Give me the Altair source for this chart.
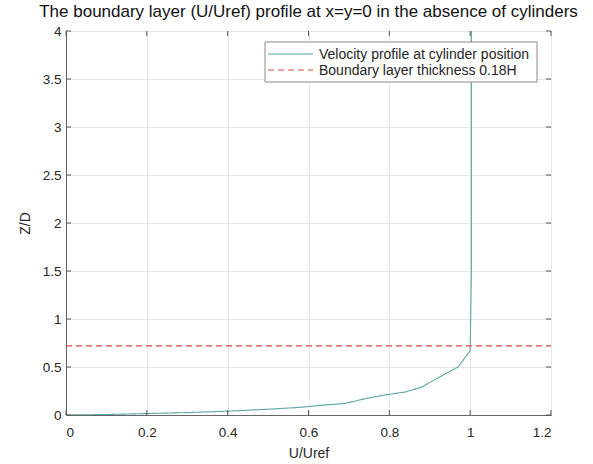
import altair as alt
import pandas as pd

# Mean streamwise velocity profile (U/Uref) against height (Z/D)
u_profile = [0.0, 0.10, 0.20, 0.30, 0.40, 0.50, 0.58, 0.63, 0.69, 0.74, 0.79,
             0.84, 0.88, 0.93, 0.97, 1.00, 1.003, 1.003]
z_profile = [0.0, 0.005, 0.015, 0.025, 0.04, 0.06, 0.08, 0.10, 0.12, 0.17, 0.21,
             0.24, 0.29, 0.41, 0.50, 0.67, 1.5, 4.0]

# Boundary layer thickness (0.18H, H = 4D)
bl_u = [0.0, 1.2]
bl_z = [0.72, 0.72]

series_names = ["Velocity profile at cylinder position", "Boundary layer thickness 0.18H"]
series_colors = ["#5aa6a0", "#d9473f"]
series_dash = [[1, 0], [6, 4]]

x_ticks = [0, 0.2, 0.4, 0.6, 0.8, 1.0, 1.2]
y_ticks = [0, 0.5, 1, 1.5, 2, 2.5, 3, 3.5, 4]

W, H = 485, 384
FONT = "Liberation Sans"
TXT = "#262626"

df = pd.concat([
    pd.DataFrame({"u": u_profile, "z": z_profile, "series": series_names[0], "order": range(len(u_profile))}),
    pd.DataFrame({"u": bl_u, "z": bl_z, "series": series_names[1], "order": range(len(bl_u))}),
])

x_scale = alt.Scale(domain=[0, 1.2], nice=False)
y_scale = alt.Scale(domain=[0, 4], nice=False)
color_scale = alt.Scale(domain=series_names, range=series_colors)
dash_scale = alt.Scale(domain=series_names, range=series_dash)

axis_style = dict(grid=True, gridColor="#e6e6e6", tickSize=0, format="~g",
                  labelFont=FONT, labelFontSize=13.5, labelColor=TXT,
                  titleFont=FONT, titleFontSize=14, titleColor=TXT,
                  titleFontWeight="normal", domainColor="#666666")

lines = alt.Chart(df).mark_line(strokeWidth=1.1, clip=True).encode(
    x=alt.X("u:Q", scale=x_scale, title="U/Uref",
            axis=alt.Axis(values=x_ticks, labelPadding=10, titlePadding=8, **axis_style)),
    y=alt.Y("z:Q", scale=y_scale, title="Z/D",
            axis=alt.Axis(values=y_ticks, labelPadding=5, titlePadding=10, **axis_style)),
    order="order:Q",
    color=alt.Color("series:N", scale=color_scale, legend=None),
    strokeDash=alt.StrokeDash("series:N", scale=dash_scale, legend=None),
)

# Inward-pointing ticks on all four sides of the box
tick_len = 5
tick_color = "#555555"
xt = pd.DataFrame({"v": x_ticks})
yt = pd.DataFrame({"v": y_ticks})

ticks_bottom = alt.Chart(xt).mark_rule(color=tick_color).encode(
    x=alt.X("v:Q", scale=x_scale), y=alt.value(H), y2=alt.value(H - tick_len))
ticks_top = alt.Chart(xt).mark_rule(color=tick_color).encode(
    x=alt.X("v:Q", scale=x_scale), y=alt.value(0), y2=alt.value(tick_len))
ticks_left = alt.Chart(yt).mark_rule(color=tick_color).encode(
    y=alt.Y("v:Q", scale=y_scale), x=alt.value(0), x2=alt.value(tick_len))
ticks_right = alt.Chart(yt).mark_rule(color=tick_color).encode(
    y=alt.Y("v:Q", scale=y_scale), x=alt.value(W), x2=alt.value(W - tick_len))

# Legend box in the upper right corner
leg = pd.DataFrame({"series": series_names})
legend_box = alt.Chart(leg.head(1)).mark_rect(
    fill="white", stroke="#8a8a8a", strokeWidth=1
).encode(x=alt.value(199), x2=alt.value(471), y=alt.value(11), y2=alt.value(51))

legend_layers = [legend_box]
for i, name in enumerate(series_names):
    row = leg[leg["series"] == name]
    y_row = 23 + 16 * i
    legend_layers.append(
        alt.Chart(row).mark_rule(strokeWidth=1.1).encode(
            x=alt.value(202), x2=alt.value(247), y=alt.value(y_row),
            color=alt.Color("series:N", scale=color_scale, legend=None),
            strokeDash=alt.StrokeDash("series:N", scale=dash_scale, legend=None),
        )
    )
    legend_layers.append(
        alt.Chart(row).mark_text(
            align="left", baseline="middle", font=FONT, fontSize=14, color=TXT
        ).encode(x=alt.value(253), y=alt.value(y_row + 1), text="series:N")
    )

chart = alt.layer(lines, ticks_bottom, ticks_top, ticks_left, ticks_right, *legend_layers).properties(
    width=W, height=H,
    background="white",
    title=alt.TitleParams("The boundary layer (U/Uref) profile at x=y=0 in the absence of cylinders",
                          font=FONT, fontSize=17, fontWeight="normal", color="#111111",
                          anchor="middle", offset=3),
    autosize=alt.AutoSizeParams(type="none"),
    padding={"left": 66, "top": 31, "right": 42, "bottom": 49},
).configure_view(
    stroke="#666666", strokeWidth=1
)

chart.save("out.html", embed_options={"renderer": "svg", "actions": False})
